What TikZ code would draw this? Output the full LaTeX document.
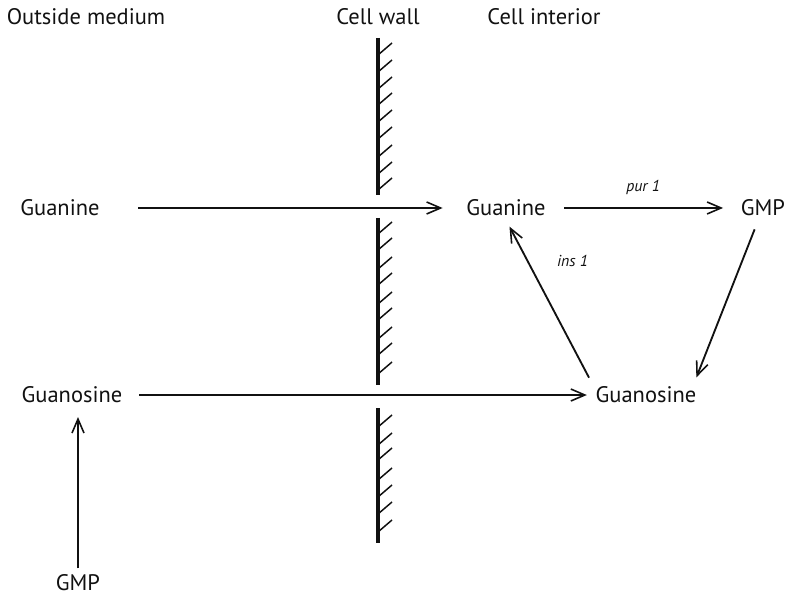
\documentclass[tikz,border=0pt]{standalone}
\usepackage{fontspec}
\setmainfont{PT Sans}
\usepackage{tikz}
\usetikzlibrary{arrows.meta,calc}
\definecolor{GInk}{HTML}{111111}
\tikzset{
  label/.style={font=\fontsize{12.8}{14}\selectfont, text=GInk, inner sep=2pt},
  enzyme/.style={font=\fontsize{9}{10}\selectfont\itshape, text=GInk},
  flow/.style={draw=GInk, line width=1.05pt, -{Straight Barb[length=2.8mm,width=2.4mm,line width=0.9pt]}},
  wall/.style={draw=GInk, line width=1.8pt},
  hatch/.style={draw=GInk, line width=0.85pt},
}
\newcommand{\wallpart}[3]{%
  \draw[wall] (378,#1) -- (378,#2);
  \foreach \yy in {#3} \draw[hatch] (378,\yy) -- ++(14,-12);
}

\begin{document}
\begin{tikzpicture}[x=0.02cm,y=-0.02cm]
  \useasboundingbox (0,0) rectangle (788,601);

  % column headings
  \node[label, anchor=west] (head-out) at (3,17) {Outside medium};
  \node[label] (head-wall) at (378,17) {Cell wall};
  \node[label] (head-in) at (544,17) {Cell interior};

  % the wall, in three pieces
  \wallpart{38}{195}{55,72,89,105,122,139,157,174,190}
  \wallpart{218}{385}{234,250,269,285,304,320,339,355,374}
  \wallpart{408}{543}{427,445,460,480,497,514,532}

  % compounds
  \node[label] (gua-out) at (60,208) {Guanine};
  \node[label] (gua-in) at (506,208) {Guanine};
  \node[label] (gmp-in) at (763,208) {GMP};
  \node[label] (guo-out) at (72,395) {Guanosine};
  \node[label] (guo-in) at (646,395) {Guanosine};
  \node[label] (gmp-out) at (78,583) {GMP};

  % transport and conversions
  \draw[flow, shorten <=0.7cm, shorten >=0.4cm] (gua-out) -- (gua-in);
  \draw[flow, shorten <=0.3cm, shorten >=0.28cm] (gua-in) -- node[enzyme, above=4pt] (pur) {pur 1} (gmp-in);
  \draw[flow, shorten <=0.26cm, shorten >=0.1cm] (guo-out) -- (guo-in);
  \draw[flow, shorten <=0.2cm, shorten >=0.12cm] (gmp-in) -- ($(guo-in.north east)+(-6,0)$);
  \draw[flow, shorten <=0.12cm, shorten >=0.15cm] (guo-in.north west) -- node[enzyme, pos=0.75, right=13pt] (ins) {ins 1} (gua-in.south);
  \draw[flow, line width=1.3pt, shorten <=0.05cm, shorten >=0.2cm] (gmp-out.north) -- (gmp-out |- guo-out.south);
\end{tikzpicture}
\end{document}
